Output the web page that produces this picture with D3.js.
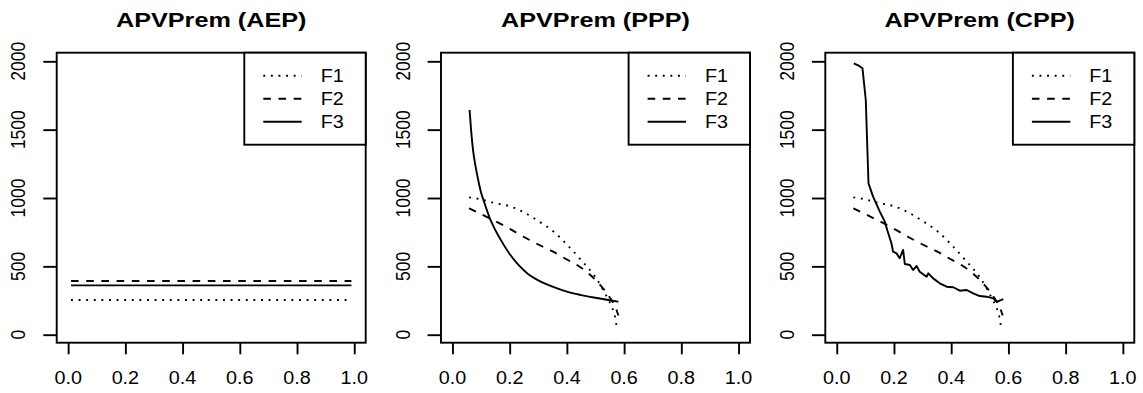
<!DOCTYPE html>
<html><head><meta charset="utf-8">
<script src="https://cdn.jsdelivr.net/npm/d3@7"></script>
<style>body{margin:0;background:#fff}svg{display:block}</style>
</head><body><svg id="c" width="1143" height="393"></svg>
<script>
// ---------- data ----------
const panelTitles = ["APVPrem (AEP)", "APVPrem (PPP)", "APVPrem (CPP)"];
const seriesNames = ["F1", "F2", "F3"];
const xTicks = [0, 0.2, 0.4, 0.6, 0.8, 1.0];
const xTickLabels = ["0.0", "0.2", "0.4", "0.6", "0.8", "1.0"];
const yTicks = [0, 500, 1000, 1500, 2000];
const yTickLabels = ["0", "500", "1000", "1500", "2000"];

// AEP panel (flat lines)
const aepX = [0.01, 0.99];
const aepF1 = [254, 254];
const aepF2 = [393, 393];
const aepF3 = [361, 361];

// F1 and F2 (same in PPP and CPP panels)
const f1X = [0.058, 0.1, 0.15, 0.2, 0.25, 0.3, 0.35, 0.4, 0.45, 0.5, 0.527, 0.545, 0.557, 0.568, 0.574];
const f1Y = [1005, 990, 962, 940, 895, 832, 760, 660, 545, 420, 327, 255, 205, 132, 59];
const f2X = [0.058, 0.13, 0.2, 0.25, 0.3, 0.35, 0.4, 0.45, 0.5, 0.53, 0.555, 0.57, 0.58];
const f2Y = [925, 851, 775, 715, 660, 610, 550, 490, 400, 330, 255, 200, 140];

// F3 in PPP panel
const pppF3X = [0.06, 0.065, 0.072, 0.08, 0.09, 0.1, 0.11, 0.13, 0.15, 0.17, 0.2, 0.23, 0.26, 0.3, 0.35, 0.4, 0.45, 0.5, 0.55, 0.58];
const pppF3Y = [1644, 1500, 1351, 1240, 1132, 1040, 975, 855, 765, 690, 590, 512, 452, 398, 352, 315, 290, 270, 252, 241];

// F3 in CPP panel
const cppF3X = [0.0595, 0.075, 0.09, 0.1015, 0.106, 0.111, 0.127, 0.1505, 0.168, 0.18, 0.191, 0.197, 0.209, 0.22, 0.232, 0.238, 0.2555, 0.267, 0.279, 0.29, 0.314, 0.32, 0.337, 0.36, 0.384, 0.407, 0.43, 0.454, 0.477, 0.5, 0.524, 0.547, 0.559, 0.582];
const cppF3Y = [1985, 1970, 1949, 1717, 1424, 1107, 1010, 900, 827, 742, 669, 607, 595, 559, 620, 517, 510, 473, 503, 461, 424, 449, 412, 376, 351, 347, 322, 327, 303, 283, 278, 266, 241, 261];

// ---------- layout ----------
const svg = d3.select("#c");
const FONT = "'Liberation Sans', Arial, Helvetica, sans-serif";
const SX = 1.13;           // horizontal stretch of the original raster
const panelLeft0 = 56.7, panelStep = 384.3, panelW = 309;
const plotTop = 52.7, plotBottom = 342.7;
const dashes = ["1.9,5.7", "7.6,7.6", null];
const LW = 1.9;

const panels = [
  {title: panelTitles[0], series: [[aepX, aepF1, true], [aepX, aepF2, true], [aepX, aepF3, true]]},
  {title: panelTitles[1], series: [[f1X, f1Y, true], [f2X, f2Y, true], [pppF3X, pppF3Y, true]]},
  {title: panelTitles[2], series: [[f1X, f1Y, true], [f2X, f2Y, true], [cppF3X, cppF3Y, false]]}
];

panels.forEach((p, i) => {
  const left = panelLeft0 + i * panelStep, right = left + panelW;
  const x = d3.scaleLinear().domain([-0.04, 1.04]).range([left, right]);
  const y = d3.scaleLinear().domain([-58.5, 2063]).range([plotBottom, plotTop]);
  const g = svg.append("g");

  // series
  p.series.forEach((s, k) => {
    const line = d3.line().x(d => x(d[0])).y(d => y(d[1]))
      .curve(s[2] ? d3.curveMonotoneX : d3.curveLinear);
    const pts = s[0].map((v, j) => [v, s[1][j]]);
    g.append("path").attr("d", line(pts))
      .attr("fill", "none").attr("stroke", "#000").attr("stroke-width", LW)
      .attr("stroke-dasharray", dashes[k]).attr("stroke-linejoin", "round");
  });

  // x axis
  const xa = g.append("g").attr("transform", `translate(0,${plotBottom})`)
    .call(d3.axisBottom(x).tickValues(xTicks).tickSize(11.6).tickSizeOuter(0).tickFormat(""));
  xa.select(".domain").remove();
  xa.selectAll("line").attr("stroke", "#000").attr("stroke-width", LW);
  xTicks.forEach((t, j) => {
    g.append("text").attr("transform", `translate(${x(t)},384) scale(${SX},1)`)
      .attr("text-anchor", "middle").attr("font-family", FONT).attr("font-size", 17.5)
      .text(xTickLabels[j]);
  });

  // y axis
  const ya = g.append("g").attr("transform", `translate(${left},0)`)
    .call(d3.axisLeft(y).tickValues(yTicks).tickSize(13.4).tickSizeOuter(0).tickFormat(""));
  ya.select(".domain").remove();
  ya.selectAll("line").attr("stroke", "#000").attr("stroke-width", LW);
  yTicks.forEach((t, j) => {
    g.append("text").attr("transform", `translate(${left - 31.5},${y(t)}) scale(${SX},1) rotate(-90)`)
      .attr("text-anchor", "middle").attr("font-family", FONT).attr("font-size", 17.5)
      .text(yTickLabels[j]);
  });

  // box
  g.append("rect").attr("x", left).attr("y", plotTop).attr("width", panelW).attr("height", plotBottom - plotTop)
    .attr("fill", "none").attr("stroke", "#000").attr("stroke-width", LW);

  // title
  g.append("text").attr("transform", `translate(${(left + right) / 2},26.7) scale(1.2,1)`)
    .attr("text-anchor", "middle").attr("font-family", FONT).attr("font-weight", "bold")
    .attr("font-size", 21).text(p.title);

  // legend
  const lx = left + 187.6;
  g.append("rect").attr("x", lx).attr("y", plotTop).attr("width", right - lx).attr("height", 92)
    .attr("fill", "#fff").attr("stroke", "#000").attr("stroke-width", LW);
  seriesNames.forEach((nm, k) => {
    const ry = plotTop + 23 * (k + 1);
    g.append("line").attr("x1", left + 206.6).attr("x2", left + 245).attr("y1", ry).attr("y2", ry)
      .attr("stroke", "#000").attr("stroke-width", LW).attr("stroke-dasharray", dashes[k]);
    g.append("text").attr("transform", `translate(${left + 264},${ry + 6.2}) scale(${SX},1)`)
      .attr("font-family", FONT).attr("font-size", 17.5).text(nm);
  });
});
</script>
</body></html>
